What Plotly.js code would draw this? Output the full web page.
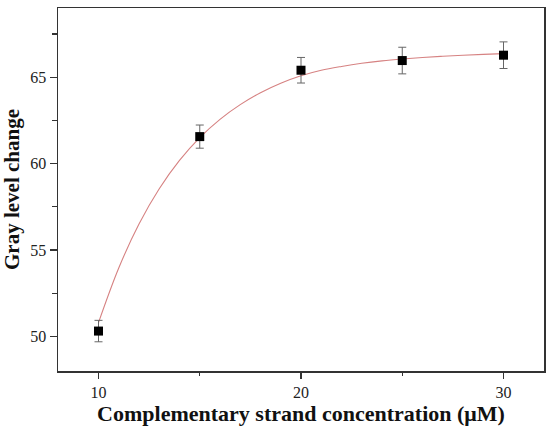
<!DOCTYPE html>
<html>
<head>
<meta charset="utf-8">
<script src="https://cdn.plot.ly/plotly-3.0.1.min.js"></script>
<style>html,body{margin:0;padding:0;background:#fff;}#chart{width:550px;height:428px;}</style>
</head>
<body>
<div id="chart"></div>
<script>
// Measured points
var concentration = [10, 15, 20, 25, 30];
var grayChange = [50.31, 61.56, 65.40, 65.96, 66.27];
var grayError = [0.62, 0.67, 0.74, 0.77, 0.77];

// Fitted curve
var fitX = [10, 11, 12, 13, 14, 15, 16, 17, 18, 19, 20, 21, 22, 23, 24, 25, 26, 27, 28, 29, 30];
var fitY = [50.8, 53.96, 56.5, 58.54, 60.18, 61.5, 62.56, 63.41, 64.1, 64.65, 65.08, 65.4, 65.62, 65.8, 65.94, 66.05, 66.14, 66.21, 66.27, 66.32, 66.36];

var serif = "'Liberation Serif', 'Times New Roman', serif";

var traces = [
  {
    x: fitX, y: fitY, type: 'scatter', mode: 'lines',
    line: {color: 'rgb(214,130,130)', width: 1.1, shape: 'spline'},
    hoverinfo: 'skip'
  },
  {
    x: concentration, y: grayChange, type: 'scatter', mode: 'markers',
    marker: {symbol: 'square', size: 9, color: '#000'},
    error_y: {type: 'data', array: grayError, visible: true, color: '#666', thickness: 1, width: 4}
  }
];

var layout = {
  width: 550, height: 428,
  margin: {l: 58, r: 6, t: 8, b: 57},
  paper_bgcolor: '#fff', plot_bgcolor: '#fff',
  showlegend: false,
  font: {family: serif, color: '#222'},
  xaxis: {
    range: [8, 32], dtick: 10, tick0: 0,
    ticks: 'outside', ticklen: 6, tickwidth: 1.2, tickcolor: '#333',
    minor: {dtick: 5, ticks: 'outside', ticklen: 3, tickwidth: 1.2, tickcolor: '#333'},
    showline: true, mirror: true, linecolor: '#333', linewidth: 1.5,
    showgrid: false, zeroline: false,
    tickfont: {family: serif, size: 16, color: '#222'},
    title: {text: 'Complementary strand concentration (μM)', font: {family: serif, size: 22, color: '#111', weight: 'bold'}, standoff: 5}
  },
  yaxis: {
    range: [48, 69], dtick: 5, tick0: 0,
    ticks: 'outside', ticklen: 7, tickwidth: 1.2, tickcolor: '#333',
    minor: {dtick: 2.5, ticks: 'outside', ticklen: 5, tickwidth: 1.2, tickcolor: '#333'},
    showline: true, mirror: true, linecolor: '#333', linewidth: 1.5,
    showgrid: false, zeroline: false,
    tickfont: {family: serif, size: 16, color: '#222'},
    title: {text: 'Gray level change', font: {family: serif, size: 21, color: '#111', weight: 'bold'}, standoff: 6}
  }
};

Plotly.newPlot('chart', traces, layout, {displayModeBar: false, staticPlot: true});
</script>
</body>
</html>
